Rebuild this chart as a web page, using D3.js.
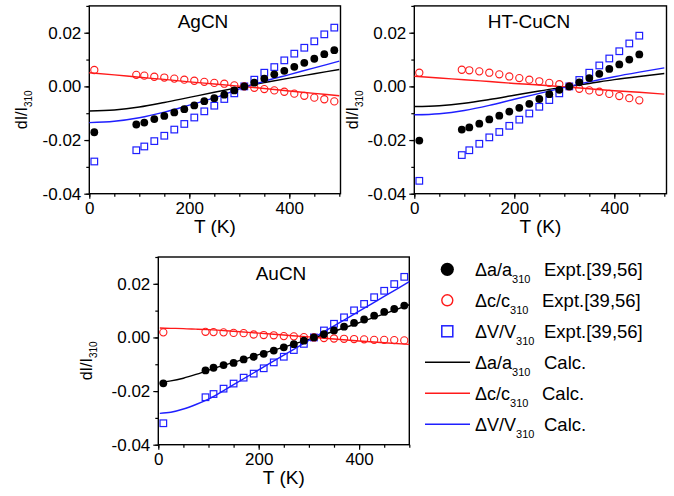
<!DOCTYPE html>
<html>
<head>
<meta charset="utf-8">
<script src="https://cdn.jsdelivr.net/npm/d3@7"></script>
<style>
  body { margin: 0; background: #fff; }
  svg { font-family: "Liberation Sans", Arial, sans-serif; }
</style>
</head>
<body>
<div id="chart"></div>
<script>
// experimental temperatures
var T_ag = [10, 94, 110, 130, 150, 170, 190, 210, 230, 250, 270, 290, 310, 330, 350, 370, 390, 410, 430, 450, 470, 490];
var T_cu = [10, 95, 110, 130, 150, 170, 190, 210, 230, 250, 270, 290, 310, 330, 350, 370, 390, 410, 430, 450];
var T_au = [10, 94, 110, 130, 150, 170, 190, 210, 230, 250, 270, 290, 310, 330, 350, 370, 390, 410, 430, 450, 470, 490];

// AgCN expt
var ag_a = [-0.0171, -0.0142, -0.0135, -0.0122, -0.0110, -0.0097, -0.0085, -0.0071, -0.0055, -0.0044, -0.0031, -0.0015, 0.0000, 0.0014, 0.0029, 0.0045, 0.0058, 0.0073, 0.0088, 0.0103, 0.0120, 0.0135];
var ag_c = [0.0061, 0.0043, 0.0040, 0.0036, 0.0033, 0.0029, 0.0025, 0.0021, 0.0017, 0.0013, 0.0010, 0.0004, 0.0000, -0.0005, -0.0010, -0.0015, -0.0020, -0.0027, -0.0035, -0.0042, -0.0048, -0.0056];
var ag_V = [-0.0280, -0.0238, -0.0224, -0.0204, -0.0184, -0.0161, -0.0140, -0.0116, -0.0093, -0.0072, -0.0047, -0.0026, 0.0000, 0.0025, 0.0051, 0.0072, 0.0097, 0.0122, 0.0144, 0.0168, 0.0194, 0.0219];

// HT-CuCN expt
var cu_a = [-0.0202, -0.0161, -0.0153, -0.0139, -0.0123, -0.0109, -0.0094, -0.0080, -0.0065, -0.0047, -0.0029, -0.0013, 0.0000, 0.0015, 0.0031, 0.0047, 0.0065, 0.0082, 0.0100, 0.0119];
var cu_c = [0.0051, 0.0062, 0.0060, 0.0056, 0.0051, 0.0045, 0.0037, 0.0031, 0.0025, 0.0019, 0.0013, 0.0008, 0.0000, -0.0009, -0.0015, -0.0020, -0.0028, -0.0036, -0.0044, -0.0052];
var cu_V = [-0.0352, -0.0256, -0.0238, -0.0214, -0.0190, -0.0170, -0.0147, -0.0124, -0.0101, -0.0076, -0.0051, -0.0026, 0.0000, 0.0024, 0.0051, 0.0078, 0.0104, 0.0131, 0.0160, 0.0189];

// AuCN expt
var au_a = [-0.0171, -0.0123, -0.0113, -0.0103, -0.0095, -0.0082, -0.0072, -0.0061, -0.0049, -0.0037, -0.0025, -0.0012, 0.0000, 0.0012, 0.0026, 0.0040, 0.0054, 0.0067, 0.0081, 0.0095, 0.0106, 0.0119];
var au_c = [0.0019, 0.0021, 0.0020, 0.0019, 0.0017, 0.0016, 0.0011, 0.0009, 0.0008, 0.0005, 0.0004, 0.0001, 0.0000, -0.0002, -0.0004, -0.0005, -0.0006, -0.0007, -0.0009, -0.0009, -0.0010, -0.0011];
var au_V = [-0.0320, -0.0223, -0.0211, -0.0191, -0.0172, -0.0150, -0.0135, -0.0115, -0.0093, -0.0072, -0.0047, -0.0024, 0.0000, 0.0026, 0.0051, 0.0075, 0.0101, 0.0125, 0.0150, 0.0174, 0.0199, 0.0226];

// calculated curves
var Tcalc = [0, 50, 100, 150, 200, 250, 310, 350, 400, 450, 500];
var ag_a_calc = [-0.0092, -0.0088, -0.0077, -0.0060, -0.0041, -0.0022, 0.0000, 0.0014, 0.0031, 0.0047, 0.0063];
var ag_c_calc = [0.0051, 0.0043, 0.0034, 0.0026, 0.0017, 0.0009, -0.0001, -0.0008, -0.0017, -0.0026, -0.0035];
var ag_V_calc = [-0.0135, -0.0130, -0.0117, -0.0096, -0.0070, -0.0043, -0.0003, 0.0019, 0.0044, 0.0069, 0.0094];
var cu_a_calc = [-0.0075, -0.0072, -0.0063, -0.0049, -0.0033, -0.0017, 0.0000, 0.0011, 0.0025, 0.0037, 0.0048];
var cu_c_calc = [0.0038, 0.0031, 0.0025, 0.0018, 0.0011, 0.0005, -0.0003, -0.0009, -0.0016, -0.0022, -0.0029];
var cu_V_calc = [-0.0106, -0.0102, -0.0090, -0.0071, -0.0048, -0.0026, 0.0000, 0.0017, 0.0036, 0.0053, 0.0069];
var TcalcAu = [3, 25, 50, 75, 100, 150, 200, 250, 300, 350, 400, 450, 500];
var au_a_calc = [-0.0167, -0.0162, -0.0152, -0.0138, -0.0122, -0.0093, -0.0064, -0.0036, -0.0007, 0.0023, 0.0055, 0.0088, 0.0122];
var au_c_calc = [0.0035, 0.0034, 0.0033, 0.0031, 0.0029, 0.0023, 0.0016, 0.0009, 0.0002, -0.0006, -0.0013, -0.0020, -0.0026];
var au_V_calc = [-0.0283, -0.0279, -0.0267, -0.0250, -0.0230, -0.0176, -0.0121, -0.0066, -0.0011, 0.0043, 0.0098, 0.0153, 0.0208];

var xTicks = [0, 200, 400];
var yTicks = [-0.04, -0.02, 0.00, 0.02];

var BLUE = "#1f1fff", RED = "#ff1a1a";

var svg = d3.select("#chart").append("svg")
  .attr("width", 674).attr("height", 496);

function drawPanel(p) {
  var x = d3.scaleLinear().domain([0, p.xmax]).range([p.left, p.right]);
  var y = d3.scaleLinear().domain([-0.04, 0.03]).range([p.bottom, p.top]);
  var g = svg.append("g");

  // minor ticks
  g.append("g")
    .attr("transform", "translate(0," + p.bottom + ")")
    .call(d3.axisBottom(x).tickValues(d3.range(0, 501, 50)).tickSize(3).tickFormat(""))
    .call(function(a){ a.select(".domain").remove(); });
  g.append("g")
    .attr("transform", "translate(" + p.left + ",0)")
    .call(d3.axisLeft(y).tickValues(d3.range(-0.04, 0.031, 0.01)).tickSize(3).tickFormat(""))
    .call(function(a){ a.select(".domain").remove(); });

  // major ticks + labels
  var xa = g.append("g")
    .attr("transform", "translate(0," + p.bottom + ")")
    .call(d3.axisBottom(x).tickValues(xTicks).tickSize(5).tickPadding(3).tickFormat(d3.format("d")));
  var ya = g.append("g")
    .attr("transform", "translate(" + p.left + ",0)")
    .call(d3.axisLeft(y).tickValues(yTicks).tickSize(5).tickPadding(3).tickFormat(function(d){ return d.toFixed(2); }));
  [xa, ya].forEach(function(a){
    a.select(".domain").remove();
    a.selectAll("text").attr("font-size", 17).attr("fill", "#000").style("font-family", "Liberation Sans, Arial, sans-serif");
  });
  g.selectAll(".tick line").attr("stroke", "#000").attr("stroke-width", 1.2);

  // frame
  g.append("rect")
    .attr("x", p.left).attr("y", p.top)
    .attr("width", p.right - p.left).attr("height", p.bottom - p.top)
    .attr("fill", "none").attr("stroke", "#000").attr("stroke-width", 1.4);

  // calc lines
  var line = d3.line().x(function(d){ return x(d[0]); }).y(function(d){ return y(d[1]); }).curve(d3.curveMonotoneX);
  [[p.calc_a, "#000"], [p.calc_c, RED], [p.calc_V, BLUE]].forEach(function(s){
    g.append("path")
      .datum(d3.zip(p.Tc, s[0]))
      .attr("d", line)
      .attr("fill", "none").attr("stroke", s[1]).attr("stroke-width", 1.4);
  });

  // expt points
  g.selectAll(".sq").data(d3.zip(p.T, p.V)).enter().append("rect")
    .attr("x", function(d){ return x(d[0]) - 3.3; })
    .attr("y", function(d){ return y(d[1]) - 3.3; })
    .attr("width", 6.6).attr("height", 6.6)
    .attr("fill", "none").attr("stroke", BLUE).attr("stroke-width", 1.2);
  g.selectAll(".oc").data(d3.zip(p.T, p.c)).enter().append("circle")
    .attr("cx", function(d){ return x(d[0]); })
    .attr("cy", function(d){ return y(d[1]); })
    .attr("r", 3.6)
    .attr("fill", "none").attr("stroke", RED).attr("stroke-width", 1.1);
  g.selectAll(".fc").data(d3.zip(p.T, p.a)).enter().append("circle")
    .attr("cx", function(d){ return x(d[0]); })
    .attr("cy", function(d){ return y(d[1]); })
    .attr("r", 3.9)
    .attr("fill", "#000");

  // title
  g.append("text")
    .attr("x", p.titleX).attr("y", p.top + 22.5)
    .attr("text-anchor", "middle").attr("font-size", 19)
    .text(p.name);

  // axis titles
  g.append("text")
    .attr("x", (p.left + p.right) / 2).attr("y", p.bottom + 39)
    .attr("text-anchor", "middle").attr("font-size", 19)
    .text("T (K)");
  var yl = g.append("text")
    .attr("transform", "translate(" + (p.left - p.ylabOff) + "," + ((p.top + p.bottom) / 2 + 10) + ") rotate(-90)")
    .attr("text-anchor", "middle").attr("font-size", 16);
  yl.append("tspan").text("dI/I");
  yl.append("tspan").attr("font-size", 10).attr("dy", 5).text("310");
}

drawPanel({ name: "AgCN", left: 89.3, right: 340.5, xmax: 502.4, top: 5.9, bottom: 193.7, titleX: 203, ylabOff: 62,
  T: T_ag, a: ag_a, c: ag_c, V: ag_V, Tc: Tcalc, calc_a: ag_a_calc, calc_c: ag_c_calc, calc_V: ag_V_calc });
drawPanel({ name: "HT-CuCN", left: 414.3, right: 666.5, xmax: 504.4, top: 5.9, bottom: 193.7, titleX: 529, ylabOff: 56,
  T: T_cu, a: cu_a, c: cu_c, V: cu_V, Tc: Tcalc, calc_a: cu_a_calc, calc_c: cu_c_calc, calc_V: cu_V_calc });
drawPanel({ name: "AuCN", left: 158.3, right: 409.3, xmax: 500, top: 257, bottom: 444.7, titleX: 281, ylabOff: 66,
  T: T_au, a: au_a, c: au_c, V: au_V, Tc: TcalcAu, calc_a: au_a_calc, calc_c: au_c_calc, calc_V: au_V_calc });

// legend
var legendLabels = [
  ["\u0394a/a", "Expt.[39,56]", "dot"],
  ["\u0394c/c", "Expt.[39,56]", "ring"],
  ["\u0394V/V", "Expt.[39,56]", "square"],
  ["\u0394a/a", "Calc.", "#000"],
  ["\u0394c/c", "Calc.", RED],
  ["\u0394V/V", "Calc.", BLUE]
];
var lg = svg.append("g");
legendLabels.forEach(function(d, i){
  var cy = 269.3 + i * 31;
  if (d[2] === "dot") {
    lg.append("circle").attr("cx", 447.3).attr("cy", cy).attr("r", 6.6).attr("fill", "#000");
  } else if (d[2] === "ring") {
    lg.append("circle").attr("cx", 447.3).attr("cy", cy).attr("r", 5.5).attr("fill", "none").attr("stroke", RED).attr("stroke-width", 1.4);
  } else if (d[2] === "square") {
    lg.append("rect").attr("x", 441.8).attr("y", cy - 5.5).attr("width", 11).attr("height", 11).attr("fill", "none").attr("stroke", BLUE).attr("stroke-width", 1.5);
  } else {
    lg.append("line").attr("x1", 425).attr("x2", 470).attr("y1", cy).attr("y2", cy).attr("stroke", d[2]).attr("stroke-width", 1.5);
  }
  var t = lg.append("text").attr("x", 475).attr("y", cy + 7).attr("font-size", 18);
  t.append("tspan").text(d[0]);
  t.append("tspan").attr("font-size", 11).attr("dy", 7).text("310");
  lg.append("text").attr("x", i === 1 || i === 4 ? 542 : 544).attr("y", cy + 7).attr("font-size", 18.5).text(d[1]);
});
</script>
</body>
</html>
